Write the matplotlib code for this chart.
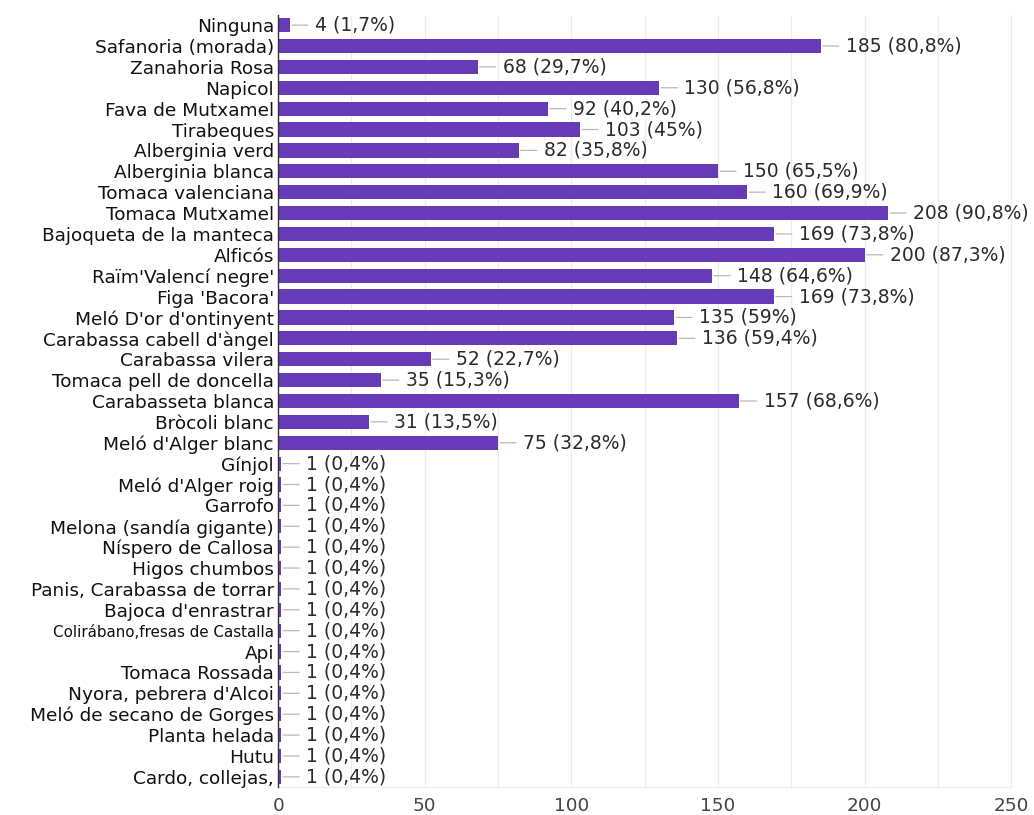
import matplotlib
matplotlib.use("Agg")
import matplotlib.pyplot as plt
from matplotlib.ticker import MultipleLocator

plt.rcParams['font.family'] = ['DejaVu Sans']

categories = [
    "Ninguna", "Safanoria (morada)", "Zanahoria Rosa", "Napicol", "Fava de Mutxamel",
    "Tirabeques", "Alberginia verd", "Alberginia blanca", "Tomaca valenciana",
    "Tomaca Mutxamel", "Bajoqueta de la manteca", "Alficós", "Raïm'Valencí negre'",
    "Figa 'Bacora'", "Meló D'or d'ontinyent", "Carabassa cabell d'àngel",
    "Carabassa vilera", "Tomaca pell de doncella", "Carabasseta blanca",
    "Bròcoli blanc", "Meló d'Alger blanc", "Gínjol", "Meló d'Alger roig", "Garrofo",
    "Melona (sandía gigante)", "Níspero de Callosa", "Higos chumbos",
    "Panis, Carabassa de torrar", "Bajoca d'enrastrar", "Colirábano,fresas de Castalla",
    "Api", "Tomaca Rossada", "Nyora, pebrera d'Alcoi", "Meló de secano de Gorges",
    "Planta helada", "Hutu", "Cardo, collejas,",
]
counts = [
    4, 185, 68, 130, 92, 103, 82, 150, 160, 208, 169, 200, 148, 169, 135, 136,
    52, 35, 157, 31, 75, 1, 1, 1, 1, 1, 1, 1, 1, 1, 1, 1, 1, 1, 1, 1, 1,
]
percents = [
    "1,7", "80,8", "29,7", "56,8", "40,2", "45", "35,8", "65,5", "69,9", "90,8",
    "73,8", "87,3", "64,6", "73,8", "59", "59,4", "22,7", "15,3", "68,6", "13,5",
    "32,8", "0,4", "0,4", "0,4", "0,4", "0,4", "0,4", "0,4", "0,4", "0,4", "0,4",
    "0,4", "0,4", "0,4", "0,4", "0,4", "0,4",
]
x_max = 250

bar_color = "#673ab7"
text_color = "#2b2b2b"
label_size = 13.3
value_size = 13.5

fig = plt.figure(figsize=(10.34, 8.15), dpi=100)
ax = fig.add_axes([0.269, 0.034, 0.709, 0.948])

ypos = list(range(len(categories)))
ax.barh(ypos, counts, height=0.68, color=bar_color, zorder=3)
ax.set_ylim(len(categories) - 0.5, -0.5)
ax.set_xlim(0, x_max)

# value labels joined to the bar ends by short leader lines
for y, c, p in zip(ypos, counts, percents):
    ax.annotate(f"{c} ({p}%)", xy=(c, y), xytext=(18, 0),
                textcoords="offset points", va="center", ha="left",
                fontsize=value_size, color=text_color,
                arrowprops=dict(arrowstyle="-", color="#b8b8b8", lw=0.9,
                                shrinkA=3, shrinkB=1.5))

ax.set_yticks(ypos)
ax.set_yticklabels(categories, fontsize=label_size, color="#111111")
for lbl in ax.get_yticklabels():
    if lbl.get_text().startswith("Colirábano"):
        lbl.set_fontsize(10.9)
ax.tick_params(axis="y", length=0, pad=3)

ax.xaxis.set_major_locator(MultipleLocator(50))
ax.xaxis.set_minor_locator(MultipleLocator(25))
ax.tick_params(axis="x", which="both", length=0, pad=7, labelsize=label_size,
               labelcolor="#444444")
ax.grid(axis="x", which="both", color="#ececec", lw=0.9, zorder=0)

ax.spines["top"].set_visible(False)
ax.spines["right"].set_color("#ececec")
ax.spines["bottom"].set_color("#ececec")
ax.spines["left"].set_color("#333333")
ax.spines["left"].set_linewidth(1.0)
ax.spines["left"].set_zorder(4)

fig.savefig("out.png", dpi=100, facecolor="white")
